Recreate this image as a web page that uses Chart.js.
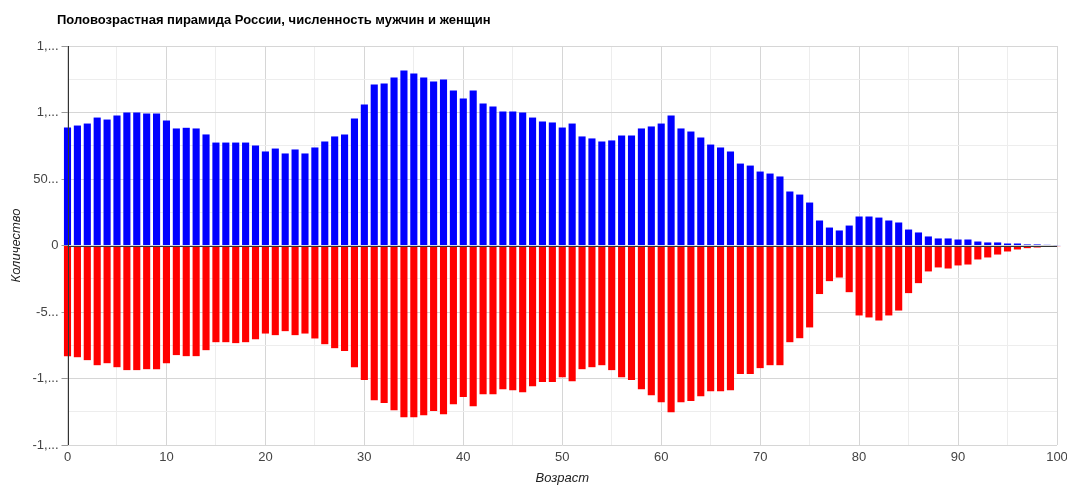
<!DOCTYPE html>
<html lang="ru">
<head>
    <meta charset="UTF-8">
    <title>Половозрастная пирамида России</title>
    <style>
        html, body {
            margin: 0;
            padding: 0;
            background: #fff;
        }
        .wrap {
            position: relative;
            width: 1067px;
            height: 487px;
        }
        .title {
            position: absolute;
            left: 57px;
            top: 12px;
            font: bold 13px "Liberation Sans", Arial, sans-serif;
            color: #000;
            white-space: nowrap;
        }
        canvas {
            position: absolute;
            left: 0;
            top: 0;
        }
    </style>
    <script src="https://cdn.jsdelivr.net/npm/chart.js"></script>
</head>
<body>
    <div class="wrap">
        <canvas id="pyramid" width="1067" height="487"></canvas>
        <div class="title">Половозрастная пирамида России, численность мужчин и женщин</div>
    </div>
    <script>
        // возраст 0..100
        const ages = [
            0, 1, 2, 3, 4, 5, 6, 7, 8, 9, 10, 11, 12, 13, 14, 15, 16, 17, 18, 19,
            20, 21, 22, 23, 24, 25, 26, 27, 28, 29, 30, 31, 32, 33, 34, 35, 36, 37, 38, 39,
            40, 41, 42, 43, 44, 45, 46, 47, 48, 49, 50, 51, 52, 53, 54, 55, 56, 57, 58, 59,
            60, 61, 62, 63, 64, 65, 66, 67, 68, 69, 70, 71, 72, 73, 74, 75, 76, 77, 78, 79,
            80, 81, 82, 83, 84, 85, 86, 87, 88, 89, 90, 91, 92, 93, 94, 95, 96, 97, 98, 99, 100
        ];

        // мужчины (вверх)
        const men = [
            887000, 902000, 917000, 962000, 947000, 977000, 1000000, 1000000, 992000, 992000,
            940000, 880000, 885000, 880000, 835000, 774000, 774000, 774000, 774000, 752000,
            707000, 729000, 692000, 722000, 692000, 737000, 782000, 820000, 835000, 955000,
            1060000, 1210000, 1218000, 1263000, 1316000, 1293000, 1263000, 1233000, 1248000, 1165000,
            1105000, 1165000, 1068000, 1045000, 1008000, 1008000, 1000000, 962000, 932000, 925000,
            887000, 917000, 820000, 805000, 782000, 790000, 827000, 827000, 880000, 895000,
            917000, 977000, 880000, 857000, 812000, 759000, 737000, 707000, 616000, 601000,
            556000, 541000, 519000, 406000, 383000, 323000, 188000, 135000, 113000, 150000,
            218000, 218000, 210000, 188000, 173000, 120000, 98000, 68000, 53000, 53000,
            45000, 45000, 30000, 23000, 23000, 15000, 15000, 8000, 8000, 5000, 3000
        ];

        // женщины (вниз)
        const women = [
            -832000, -840000, -862000, -900000, -885000, -915000, -937000, -937000, -930000, -930000,
            -885000, -824000, -832000, -832000, -787000, -727000, -727000, -734000, -727000, -704000,
            -662000, -674000, -644000, -674000, -662000, -699000, -742000, -772000, -794000, -915000,
            -1012000, -1163000, -1185000, -1238000, -1291000, -1291000, -1276000, -1245000, -1268000, -1193000,
            -1140000, -1208000, -1118000, -1118000, -1080000, -1088000, -1103000, -1058000, -1027000, -1027000,
            -990000, -1020000, -930000, -915000, -900000, -937000, -990000, -1012000, -1080000, -1125000,
            -1178000, -1253000, -1178000, -1170000, -1133000, -1095000, -1095000, -1088000, -967000, -967000,
            -922000, -900000, -900000, -727000, -697000, -616000, -365000, -268000, -241000, -351000,
            -526000, -541000, -564000, -526000, -489000, -358000, -283000, -195000, -165000, -173000,
            -150000, -143000, -105000, -90000, -68000, -45000, -30000, -20000, -15000, -10000, -5000
        ];

        const yMin = -1500000;
        const yMax = 1500000;
        const yStep = 250000;
        const yLabelStep = 500000;

        const FONT = '"Liberation Sans", Arial, sans-serif';
        Chart.defaults.font.family = FONT;
        Chart.defaults.font.size = 13;
        Chart.defaults.color = '#444';

        // подписи оси Y обрезаются, как в оригинале ("1,...")
        const measure = document.createElement('canvas').getContext('2d');
        measure.font = '13px ' + FONT;
        function shortLabel(v) {
            const s = v.toLocaleString('en-US');
            const maxW = 27.5;
            if (measure.measureText(s).width <= maxW) return s;
            let n = s.length - 1;
            while (n > 0 && measure.measureText(s.slice(0, n) + '...').width > maxW) n--;
            return s.slice(0, n) + '...';
        }

        function isMajor(c, step) {
            return c.tick && c.tick.value % step === 0;
        }

        // ось Y и нулевая линия поверх столбцов
        const axisLines = {
            id: 'axisLines',
            afterDatasetsDraw(chart) {
                const { ctx, chartArea, scales } = chart;
                const y0 = Math.round(scales.y.getPixelForValue(0)) + 0.5;
                const x0 = Math.round(scales.x.getPixelForValue(0)) + 0.5;
                ctx.save();
                ctx.strokeStyle = '#333';
                ctx.lineWidth = 1;
                ctx.beginPath();
                ctx.moveTo(chartArea.left, y0);
                ctx.lineTo(chartArea.right, y0);
                ctx.moveTo(x0, chartArea.top);
                ctx.lineTo(x0, chartArea.bottom);
                ctx.stroke();
                ctx.restore();
            }
        };

        new Chart(document.getElementById('pyramid'), {
            type: 'bar',
            data: {
                datasets: [
                    {
                        label: 'Мужчины',
                        data: ages.map((a, i) => ({ x: a, y: men[i] })),
                        backgroundColor: '#0000ff',
                        clip: false
                    },
                    {
                        label: 'Женщины',
                        data: ages.map((a, i) => ({ x: a, y: women[i] })),
                        backgroundColor: '#ff0000',
                        clip: false
                    }
                ]
            },
            options: {
                responsive: false,
                animation: false,
                layout: { padding: { top: 46, right: 10, bottom: 0, left: 0 } },
                plugins: {
                    legend: { display: false },
                    tooltip: { enabled: false }
                },
                scales: {
                    x: {
                        type: 'linear',
                        stacked: true,
                        offset: false,
                        min: 0,
                        max: 100,
                        border: { display: false },
                        grid: {
                            offset: false,
                            drawTicks: false,
                            color: (c) => isMajor(c, 10) ? '#d6d6d6' : '#ededed'
                        },
                        ticks: {
                            stepSize: 5,
                            autoSkip: false,
                            maxRotation: 0,
                            padding: 5,
                            color: '#444',
                            callback: (v) => v % 10 === 0 ? v : ''
                        },
                        title: {
                            display: true,
                            text: 'Возраст',
                            color: '#222',
                            font: { size: 13, style: 'italic' },
                            padding: { top: 0, bottom: 1 }
                        },
                        afterFit(scale) {
                            scale.height = 42;
                            scale.paddingLeft = 0;
                            scale.paddingRight = 0;
                        }
                    },
                    y: {
                        stacked: true,
                        min: yMin,
                        max: yMax,
                        border: { display: false },
                        grid: {
                            tickLength: 6,
                            color: (c) => isMajor(c, yLabelStep) ? '#d6d6d6' : '#ededed',
                            tickColor: (c) => isMajor(c, yLabelStep) ? '#999' : 'rgba(0,0,0,0)'
                        },
                        ticks: {
                            stepSize: yStep,
                            padding: 3,
                            color: '#444',
                            callback: (v) => v % yLabelStep === 0 ? shortLabel(v) : ''
                        },
                        title: {
                            display: true,
                            text: 'Количество',
                            color: '#222',
                            font: { size: 13, style: 'italic' },
                            padding: { top: 9, bottom: 0 }
                        },
                        afterFit(scale) {
                            scale.width = 67.5;
                        }
                    }
                }
            },
            plugins: [axisLines]
        });
    </script>
</body>
</html>
